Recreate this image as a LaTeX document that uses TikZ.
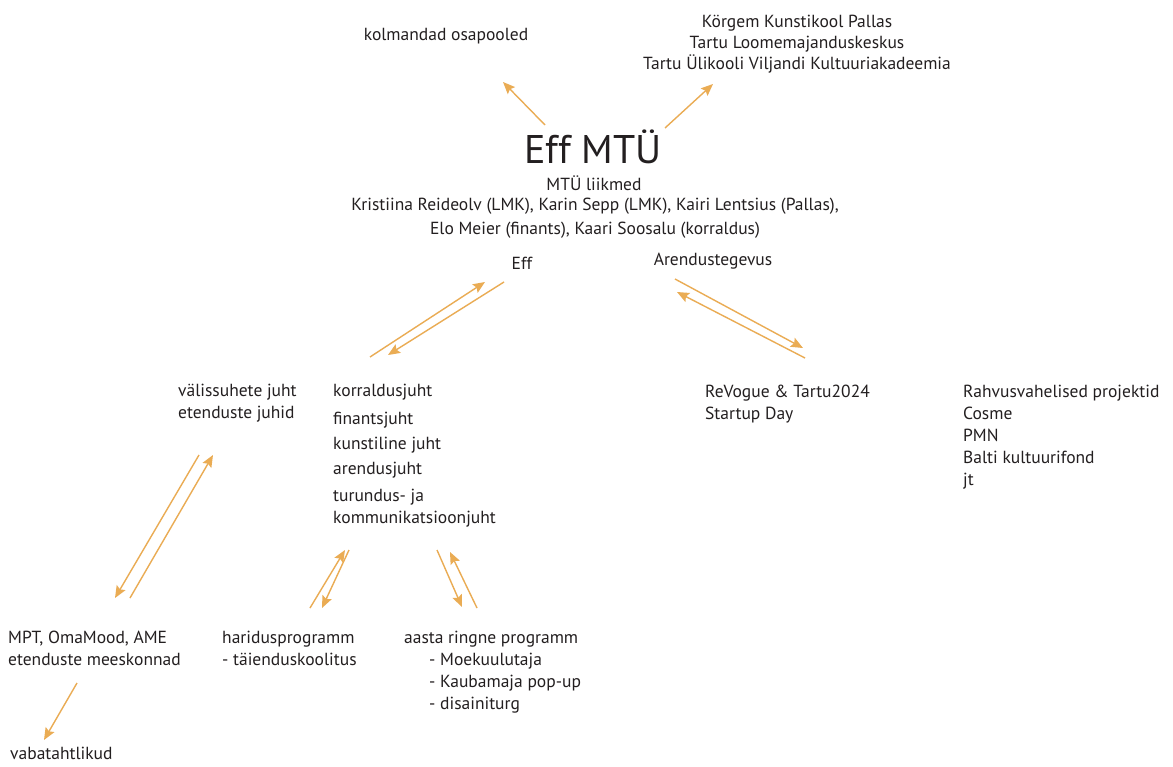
\documentclass[tikz,border=0pt]{standalone}
\usepackage{fontspec}
\setmainfont{PT Sans}
\usetikzlibrary{arrows.meta}
\definecolor{arrowcol}{RGB}{234,172,84}
\definecolor{txtcol}{RGB}{35,31,32}
\begin{document}
\begin{tikzpicture}[x=1pt,y=-1pt,
  txt/.style={font=\fontsize{17.5}{22}\selectfont, inner sep=0pt, text=txtcol},
  arr/.style={draw=arrowcol, line width=1.4pt, -{Stealth[length=12pt,width=10pt,inset=2pt]}},
  ]
\useasboundingbox[fill=white] (0,0) rectangle (1173,767);
% text nodes
\node[txt] (kolm) at (446,36) {kolmandad osapooled};
\node[txt, align=center, anchor=north, font=\fontsize{17.5}{21}\selectfont] (korgem) at (797,15) {Körgem Kunstikool Pallas\\Tartu Loomemajanduskeskus\\Tartu Ülikooli Viljandi Kultuuriakadeemia};
\node[txt, font=\fontsize{40}{46}\selectfont] (effmtu) at (593,147) {Eff MTÜ};
\node[txt] (liikmed) at (594,183) {MTÜ liikmed};
\node[txt, align=center, anchor=north, font=\fontsize{17.5}{24}\selectfont] (members) at (595,198) {Kristiina Reideolv (LMK), Karin Sepp (LMK), Kairi Lentsius (Pallas),\\Elo Meier (finants), Kaari Soosalu (korraldus)};
\node[txt] (eff) at (522,263) {Eff};
\node[txt] (arend) at (713,261) {Arendustegevus};
\node[txt, align=left, anchor=north west] (valis) at (178,384) {välissuhete juht\\etenduste juhid};
\node[txt, align=left, anchor=north west] (korr) at (333,384) {korraldusjuht\\[6pt]finantsjuht\\[3pt]kunstiline juht\\[3pt]arendusjuht\\[5pt]turundus- ja\\kommunikatsioonjuht};
\node[txt, align=left, anchor=north west] (revogue) at (705,385) {ReVogue \& Tartu2024\\Startup Day};
\node[txt, align=left, anchor=north west] (rahvus) at (963,385) {Rahvusvahelised projektid\\Cosme\\PMN\\Balti kultuurifond\\jt};
\node[txt, align=left, anchor=north west] (mpt) at (8,631) {MPT, OmaMood, AME\\etenduste meeskonnad};
\node[txt, align=left, anchor=north west] (harid) at (222,631) {haridusprogramm\\- täienduskoolitus};
\node[txt, align=left, anchor=north west] (aasta) at (404,631) {aasta ringne programm\\\hspace*{25pt}- Moekuulutaja\\\hspace*{25pt}- Kaubamaja pop-up\\\hspace*{25pt}- disainiturg};
\node[txt, anchor=north west] (vabat) at (10,747) {vabatahtlikud};
% connector end points
\coordinate (a1) at (545,125); \coordinate (a2) at (503,82);
\coordinate (b1) at (665,128); \coordinate (b2) at (713,84);
\coordinate (c1) at (370,357); \coordinate (c2) at (485,282);
\coordinate (d1) at (504,282); \coordinate (d2) at (388,355);
\coordinate (e1) at (675,279); \coordinate (e2) at (803,348);
\coordinate (f1) at (805,358); \coordinate (f2) at (677,292);
\coordinate (g1) at (199,455); \coordinate (g2) at (115,598);
\coordinate (h1) at (130,598); \coordinate (h2) at (213,455);
\coordinate (i1) at (310,608); \coordinate (i2) at (345,550);
\coordinate (j1) at (349,550); \coordinate (j2) at (322,608);
\coordinate (k1) at (437,550); \coordinate (k2) at (462,607);
\coordinate (l1) at (477,608); \coordinate (l2) at (450,552);
\coordinate (m1) at (77,683);  \coordinate (m2) at (44,740);
\draw[arr] (a1) -- (a2);
\draw[arr] (b1) -- (b2);
\draw[arr] (c1) -- (c2);
\draw[arr] (d1) -- (d2);
\draw[arr] (e1) -- (e2);
\draw[arr] (f1) -- (f2);
\draw[arr] (g1) -- (g2);
\draw[arr] (h1) -- (h2);
\draw[arr] (i1) -- (i2);
\draw[arr] (j1) -- (j2);
\draw[arr] (k1) -- (k2);
\draw[arr] (l1) -- (l2);
\draw[arr] (m1) -- (m2);
\end{tikzpicture}
\end{document}
